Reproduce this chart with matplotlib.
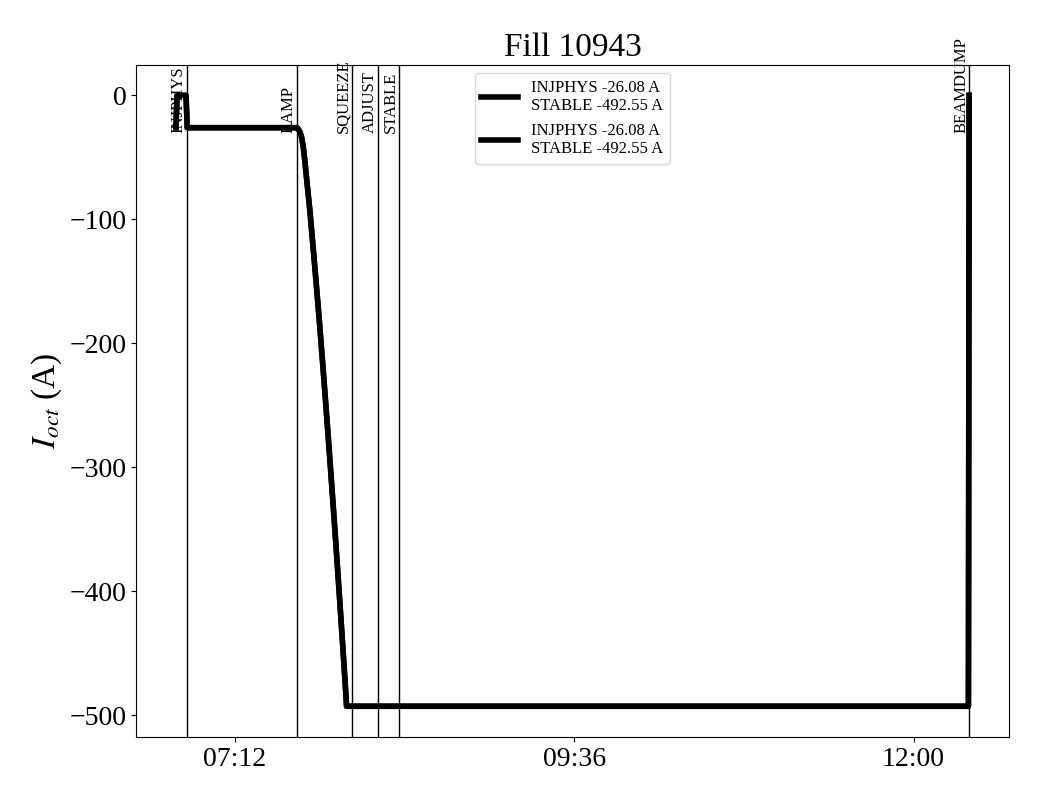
import matplotlib
matplotlib.use("Agg")
import matplotlib.pyplot as plt
import matplotlib.dates as mdates
import pandas as pd

plt.rcParams['font.family'] = ['Liberation Serif', 'DejaVu Serif']
plt.rcParams['mathtext.fontset'] = 'stix'

day = "2025-07-20 "

# octupole current readings
times = ["06:47:00", "06:47:30", "06:51:18", "06:51:48", "07:38:18", "07:38:48",
         "07:39:30", "07:40:15", "07:41:00", "07:41:40", "07:42:24", "07:43:48",
         "07:45:12", "07:46:36", "07:48:00", "07:49:24", "07:50:48", "07:52:12",
         "07:53:36", "07:55:00", "07:56:24", "07:57:48", "07:59:12", "07:59:24",
         "12:23:18", "12:23:36"]
current = [-26.08, 0, 0, -26.08, -26.08, -26.8,
           -29, -33, -41, -52, -66, -92,
           -122, -153, -185, -219, -254, -290,
           -327, -365, -404, -444, -485, -492.55,
           -492.55, 0]

# beam modes
modes = ["INJPHYS", "RAMP", "SQUEEZE", "ADJUST", "STABLE", "BEAMDUMP"]
mode_times = ["06:51:36", "07:38:18", "08:01:36", "08:12:36", "08:21:30", "12:23:42"]

tick_times = ["07:12", "09:36", "12:00"]

t = pd.to_datetime([day + s for s in times])
tm = pd.to_datetime([day + s for s in mode_times])
tt = pd.to_datetime([day + s for s in tick_times])

label = "INJPHYS -26.08 A\nSTABLE -492.55 A"

fig, ax = plt.subplots(figsize=(10.4, 8), dpi=100)
fig.subplots_adjust(left=0.131, right=0.970, top=0.919, bottom=0.079)

ax.plot(t, current, color='black', lw=4, label=label)
ax.plot(t, current, color='black', lw=4, label=label)

for name, x in zip(modes, tm):
    ax.axvline(x, color='black', lw=1)
    ax.text(x, -30, name, rotation=90, ha='right', va='bottom', fontsize=12)

ax.set_xticks(tt)
ax.xaxis.set_major_formatter(mdates.DateFormatter('%H:%M'))
ax.tick_params(labelsize=20)
ax.set_ylabel(r"$I_{oct}$ (A)", fontsize=24)
ax.set_title("Fill 10943", fontsize=24)
ax.legend(loc='upper center', fontsize=12, handlelength=2.2)

fig.savefig("out.png")
